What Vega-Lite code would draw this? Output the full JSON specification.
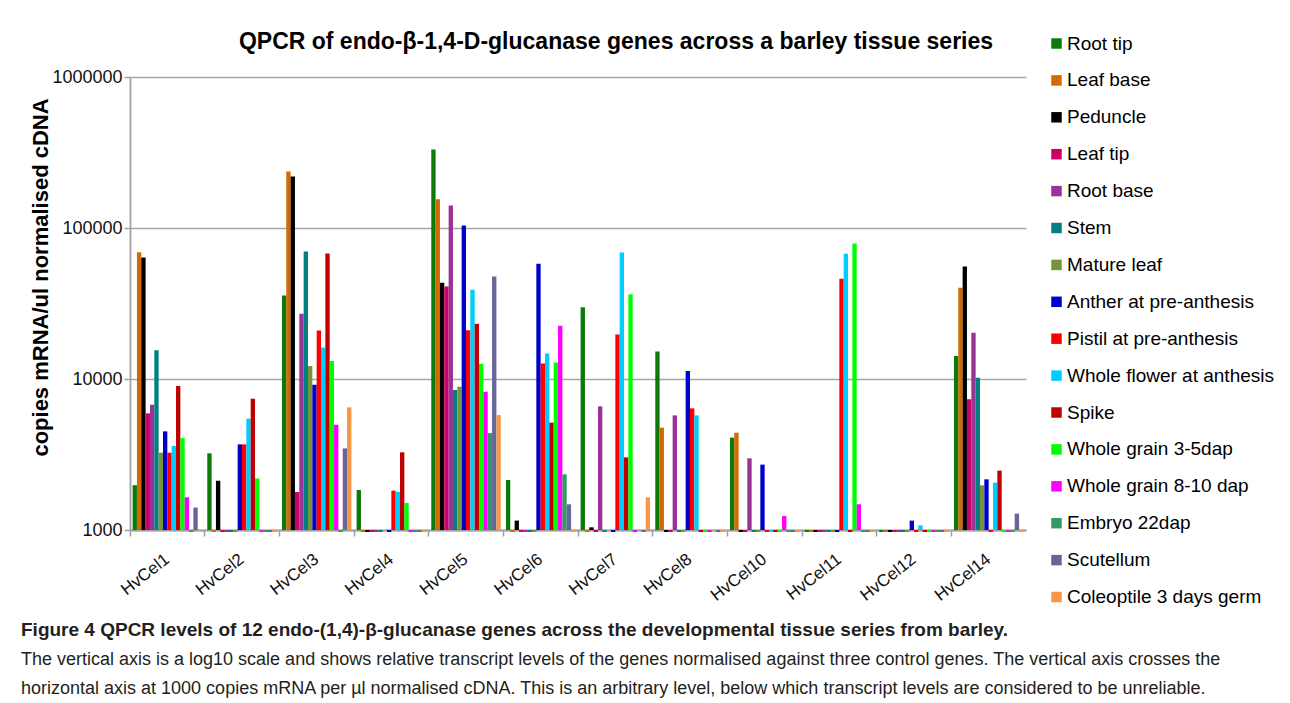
{
  "$schema": "https://vega.github.io/schema/vega-lite/v6.json",
  "background": "white",
  "padding": {"left": 20, "top": 31, "right": 5, "bottom": 5},
  "title": {
    "text": "Figure 4 QPCR levels of 12 endo-(1,4)-β-glucanase genes across the developmental tissue series from barley.",
    "subtitle": [
      "The vertical axis is a log10 scale and shows relative transcript levels of the genes normalised against three control genes. The vertical axis crosses the",
      "horizontal axis at 1000 copies mRNA per µl normalised cDNA. This is an arbitrary level, below which transcript levels are considered to be unreliable."
    ],
    "orient": "bottom",
    "anchor": "start",
    "frame": "bounds",
    "dx": -8,
    "offset": 14,
    "font": "Liberation Sans",
    "fontSize": 19,
    "fontWeight": "bold",
    "color": "#231F20",
    "subtitleFont": "Liberation Sans",
    "subtitleFontSize": 18,
    "subtitleColor": "#231F20",
    "subtitleLineHeight": 28.5,
    "subtitlePadding": 11
  },
  "vconcat": [
    {
      "width": 896,
      "height": 453,
      "title": {
        "text": "QPCR of endo-β-1,4-D-glucanase genes across a barley tissue series",
        "font": "Liberation Sans",
        "fontSize": 23,
        "fontWeight": "bold",
        "color": "black",
        "anchor": "middle",
        "dx": 38,
        "offset": 14
      },
      "data": {
        "values": [
          {"gene": "HvCel1", "tissue": "Root tip", "copies": 1980},
          {"gene": "HvCel1", "tissue": "Leaf base", "copies": 69200},
          {"gene": "HvCel1", "tissue": "Peduncle", "copies": 63800},
          {"gene": "HvCel1", "tissue": "Leaf tip", "copies": 5920},
          {"gene": "HvCel1", "tissue": "Root base", "copies": 6760},
          {"gene": "HvCel1", "tissue": "Stem", "copies": 15500},
          {"gene": "HvCel1", "tissue": "Mature leaf", "copies": 3250},
          {"gene": "HvCel1", "tissue": "Anther at pre-anthesis", "copies": 4500},
          {"gene": "HvCel1", "tissue": "Pistil at pre-anthesis", "copies": 3250},
          {"gene": "HvCel1", "tissue": "Whole flower at anthesis", "copies": 3600},
          {"gene": "HvCel1", "tissue": "Spike", "copies": 8980},
          {"gene": "HvCel1", "tissue": "Whole grain 3-5dap", "copies": 4060},
          {"gene": "HvCel1", "tissue": "Whole grain 8-10 dap", "copies": 1645},
          {"gene": "HvCel1", "tissue": "Embryo 22dap", "copies": 970},
          {"gene": "HvCel1", "tissue": "Scutellum", "copies": 1407},
          {"gene": "HvCel1", "tissue": "Coleoptile 3 days germ", "copies": 1000},

          {"gene": "HvCel2", "tissue": "Root tip", "copies": 3220},
          {"gene": "HvCel2", "tissue": "Leaf base", "copies": 970},
          {"gene": "HvCel2", "tissue": "Peduncle", "copies": 2120},
          {"gene": "HvCel2", "tissue": "Leaf tip", "copies": 970},
          {"gene": "HvCel2", "tissue": "Root base", "copies": 970},
          {"gene": "HvCel2", "tissue": "Stem", "copies": 970},
          {"gene": "HvCel2", "tissue": "Mature leaf", "copies": 970},
          {"gene": "HvCel2", "tissue": "Anther at pre-anthesis", "copies": 3690},
          {"gene": "HvCel2", "tissue": "Pistil at pre-anthesis", "copies": 3690},
          {"gene": "HvCel2", "tissue": "Whole flower at anthesis", "copies": 5460},
          {"gene": "HvCel2", "tissue": "Spike", "copies": 7410},
          {"gene": "HvCel2", "tissue": "Whole grain 3-5dap", "copies": 2190},
          {"gene": "HvCel2", "tissue": "Whole grain 8-10 dap", "copies": 970},
          {"gene": "HvCel2", "tissue": "Embryo 22dap", "copies": 970},
          {"gene": "HvCel2", "tissue": "Scutellum", "copies": 970},
          {"gene": "HvCel2", "tissue": "Coleoptile 3 days germ", "copies": 970},

          {"gene": "HvCel3", "tissue": "Root tip", "copies": 35700},
          {"gene": "HvCel3", "tissue": "Leaf base", "copies": 236600},
          {"gene": "HvCel3", "tissue": "Peduncle", "copies": 219000},
          {"gene": "HvCel3", "tissue": "Leaf tip", "copies": 1784},
          {"gene": "HvCel3", "tissue": "Root base", "copies": 27000},
          {"gene": "HvCel3", "tissue": "Stem", "copies": 69900},
          {"gene": "HvCel3", "tissue": "Mature leaf", "copies": 12170},
          {"gene": "HvCel3", "tissue": "Anther at pre-anthesis", "copies": 9170},
          {"gene": "HvCel3", "tissue": "Pistil at pre-anthesis", "copies": 20980},
          {"gene": "HvCel3", "tissue": "Whole flower at anthesis", "copies": 16190},
          {"gene": "HvCel3", "tissue": "Spike", "copies": 67800},
          {"gene": "HvCel3", "tissue": "Whole grain 3-5dap", "copies": 13140},
          {"gene": "HvCel3", "tissue": "Whole grain 8-10 dap", "copies": 4980},
          {"gene": "HvCel3", "tissue": "Embryo 22dap", "copies": 970},
          {"gene": "HvCel3", "tissue": "Scutellum", "copies": 3470},
          {"gene": "HvCel3", "tissue": "Coleoptile 3 days germ", "copies": 6490},

          {"gene": "HvCel4", "tissue": "Root tip", "copies": 1840},
          {"gene": "HvCel4", "tissue": "Leaf base", "copies": 970},
          {"gene": "HvCel4", "tissue": "Peduncle", "copies": 970},
          {"gene": "HvCel4", "tissue": "Leaf tip", "copies": 970},
          {"gene": "HvCel4", "tissue": "Root base", "copies": 970},
          {"gene": "HvCel4", "tissue": "Stem", "copies": 970},
          {"gene": "HvCel4", "tissue": "Mature leaf", "copies": 1000},
          {"gene": "HvCel4", "tissue": "Anther at pre-anthesis", "copies": 970},
          {"gene": "HvCel4", "tissue": "Pistil at pre-anthesis", "copies": 1822},
          {"gene": "HvCel4", "tissue": "Whole flower at anthesis", "copies": 1790},
          {"gene": "HvCel4", "tissue": "Spike", "copies": 3270},
          {"gene": "HvCel4", "tissue": "Whole grain 3-5dap", "copies": 1510},
          {"gene": "HvCel4", "tissue": "Whole grain 8-10 dap", "copies": 970},
          {"gene": "HvCel4", "tissue": "Embryo 22dap", "copies": 970},
          {"gene": "HvCel4", "tissue": "Scutellum", "copies": 970},
          {"gene": "HvCel4", "tissue": "Coleoptile 3 days germ", "copies": 970},

          {"gene": "HvCel5", "tissue": "Root tip", "copies": 330600},
          {"gene": "HvCel5", "tissue": "Leaf base", "copies": 155200},
          {"gene": "HvCel5", "tissue": "Peduncle", "copies": 43400},
          {"gene": "HvCel5", "tissue": "Leaf tip", "copies": 41000},
          {"gene": "HvCel5", "tissue": "Root base", "copies": 140900},
          {"gene": "HvCel5", "tissue": "Stem", "copies": 8450},
          {"gene": "HvCel5", "tissue": "Mature leaf", "copies": 8890},
          {"gene": "HvCel5", "tissue": "Anther at pre-anthesis", "copies": 103900},
          {"gene": "HvCel5", "tissue": "Pistil at pre-anthesis", "copies": 21000},
          {"gene": "HvCel5", "tissue": "Whole flower at anthesis", "copies": 39000},
          {"gene": "HvCel5", "tissue": "Spike", "copies": 23200},
          {"gene": "HvCel5", "tissue": "Whole grain 3-5dap", "copies": 12620},
          {"gene": "HvCel5", "tissue": "Whole grain 8-10 dap", "copies": 8240},
          {"gene": "HvCel5", "tissue": "Embryo 22dap", "copies": 4385},
          {"gene": "HvCel5", "tissue": "Scutellum", "copies": 47750},
          {"gene": "HvCel5", "tissue": "Coleoptile 3 days germ", "copies": 5770},

          {"gene": "HvCel6", "tissue": "Root tip", "copies": 2143},
          {"gene": "HvCel6", "tissue": "Leaf base", "copies": 970},
          {"gene": "HvCel6", "tissue": "Peduncle", "copies": 1154},
          {"gene": "HvCel6", "tissue": "Leaf tip", "copies": 970},
          {"gene": "HvCel6", "tissue": "Root base", "copies": 970},
          {"gene": "HvCel6", "tissue": "Stem", "copies": 970},
          {"gene": "HvCel6", "tissue": "Mature leaf", "copies": 970},
          {"gene": "HvCel6", "tissue": "Anther at pre-anthesis", "copies": 57950},
          {"gene": "HvCel6", "tissue": "Pistil at pre-anthesis", "copies": 12690},
          {"gene": "HvCel6", "tissue": "Whole flower at anthesis", "copies": 14770},
          {"gene": "HvCel6", "tissue": "Spike", "copies": 5140},
          {"gene": "HvCel6", "tissue": "Whole grain 3-5dap", "copies": 12880},
          {"gene": "HvCel6", "tissue": "Whole grain 8-10 dap", "copies": 22520},
          {"gene": "HvCel6", "tissue": "Embryo 22dap", "copies": 2337},
          {"gene": "HvCel6", "tissue": "Scutellum", "copies": 1480},
          {"gene": "HvCel6", "tissue": "Coleoptile 3 days germ", "copies": 970},

          {"gene": "HvCel7", "tissue": "Root tip", "copies": 29900},
          {"gene": "HvCel7", "tissue": "Leaf base", "copies": 970},
          {"gene": "HvCel7", "tissue": "Peduncle", "copies": 1042},
          {"gene": "HvCel7", "tissue": "Leaf tip", "copies": 970},
          {"gene": "HvCel7", "tissue": "Root base", "copies": 6590},
          {"gene": "HvCel7", "tissue": "Stem", "copies": 970},
          {"gene": "HvCel7", "tissue": "Mature leaf", "copies": 1000},
          {"gene": "HvCel7", "tissue": "Anther at pre-anthesis", "copies": 970},
          {"gene": "HvCel7", "tissue": "Pistil at pre-anthesis", "copies": 19730},
          {"gene": "HvCel7", "tissue": "Whole flower at anthesis", "copies": 68840},
          {"gene": "HvCel7", "tissue": "Spike", "copies": 3027},
          {"gene": "HvCel7", "tissue": "Whole grain 3-5dap", "copies": 36470},
          {"gene": "HvCel7", "tissue": "Whole grain 8-10 dap", "copies": 970},
          {"gene": "HvCel7", "tissue": "Embryo 22dap", "copies": 1000},
          {"gene": "HvCel7", "tissue": "Scutellum", "copies": 970},
          {"gene": "HvCel7", "tissue": "Coleoptile 3 days germ", "copies": 1645},

          {"gene": "HvCel8", "tissue": "Root tip", "copies": 15230},
          {"gene": "HvCel8", "tissue": "Leaf base", "copies": 4760},
          {"gene": "HvCel8", "tissue": "Peduncle", "copies": 970},
          {"gene": "HvCel8", "tissue": "Leaf tip", "copies": 970},
          {"gene": "HvCel8", "tissue": "Root base", "copies": 5740},
          {"gene": "HvCel8", "tissue": "Stem", "copies": 970},
          {"gene": "HvCel8", "tissue": "Mature leaf", "copies": 970},
          {"gene": "HvCel8", "tissue": "Anther at pre-anthesis", "copies": 11280},
          {"gene": "HvCel8", "tissue": "Pistil at pre-anthesis", "copies": 6390},
          {"gene": "HvCel8", "tissue": "Whole flower at anthesis", "copies": 5740},
          {"gene": "HvCel8", "tissue": "Spike", "copies": 970},
          {"gene": "HvCel8", "tissue": "Whole grain 3-5dap", "copies": 970},
          {"gene": "HvCel8", "tissue": "Whole grain 8-10 dap", "copies": 970},
          {"gene": "HvCel8", "tissue": "Embryo 22dap", "copies": 1000},
          {"gene": "HvCel8", "tissue": "Scutellum", "copies": 970},
          {"gene": "HvCel8", "tissue": "Coleoptile 3 days germ", "copies": 970},

          {"gene": "HvCel10", "tissue": "Root tip", "copies": 4090},
          {"gene": "HvCel10", "tissue": "Leaf base", "copies": 4410},
          {"gene": "HvCel10", "tissue": "Peduncle", "copies": 970},
          {"gene": "HvCel10", "tissue": "Leaf tip", "copies": 970},
          {"gene": "HvCel10", "tissue": "Root base", "copies": 2983},
          {"gene": "HvCel10", "tissue": "Stem", "copies": 970},
          {"gene": "HvCel10", "tissue": "Mature leaf", "copies": 970},
          {"gene": "HvCel10", "tissue": "Anther at pre-anthesis", "copies": 2710},
          {"gene": "HvCel10", "tissue": "Pistil at pre-anthesis", "copies": 970},
          {"gene": "HvCel10", "tissue": "Whole flower at anthesis", "copies": 970},
          {"gene": "HvCel10", "tissue": "Spike", "copies": 970},
          {"gene": "HvCel10", "tissue": "Whole grain 3-5dap", "copies": 970},
          {"gene": "HvCel10", "tissue": "Whole grain 8-10 dap", "copies": 1238},
          {"gene": "HvCel10", "tissue": "Embryo 22dap", "copies": 970},
          {"gene": "HvCel10", "tissue": "Scutellum", "copies": 970},
          {"gene": "HvCel10", "tissue": "Coleoptile 3 days germ", "copies": 970},

          {"gene": "HvCel11", "tissue": "Root tip", "copies": 970},
          {"gene": "HvCel11", "tissue": "Leaf base", "copies": 970},
          {"gene": "HvCel11", "tissue": "Peduncle", "copies": 970},
          {"gene": "HvCel11", "tissue": "Leaf tip", "copies": 970},
          {"gene": "HvCel11", "tissue": "Root base", "copies": 970},
          {"gene": "HvCel11", "tissue": "Stem", "copies": 970},
          {"gene": "HvCel11", "tissue": "Mature leaf", "copies": 970},
          {"gene": "HvCel11", "tissue": "Anther at pre-anthesis", "copies": 970},
          {"gene": "HvCel11", "tissue": "Pistil at pre-anthesis", "copies": 46100},
          {"gene": "HvCel11", "tissue": "Whole flower at anthesis", "copies": 67500},
          {"gene": "HvCel11", "tissue": "Spike", "copies": 970},
          {"gene": "HvCel11", "tissue": "Whole grain 3-5dap", "copies": 78900},
          {"gene": "HvCel11", "tissue": "Whole grain 8-10 dap", "copies": 1480},
          {"gene": "HvCel11", "tissue": "Embryo 22dap", "copies": 970},
          {"gene": "HvCel11", "tissue": "Scutellum", "copies": 970},
          {"gene": "HvCel11", "tissue": "Coleoptile 3 days germ", "copies": 970},

          {"gene": "HvCel12", "tissue": "Root tip", "copies": 970},
          {"gene": "HvCel12", "tissue": "Leaf base", "copies": 970},
          {"gene": "HvCel12", "tissue": "Peduncle", "copies": 970},
          {"gene": "HvCel12", "tissue": "Leaf tip", "copies": 970},
          {"gene": "HvCel12", "tissue": "Root base", "copies": 970},
          {"gene": "HvCel12", "tissue": "Stem", "copies": 970},
          {"gene": "HvCel12", "tissue": "Mature leaf", "copies": 970},
          {"gene": "HvCel12", "tissue": "Anther at pre-anthesis", "copies": 1154},
          {"gene": "HvCel12", "tissue": "Pistil at pre-anthesis", "copies": 970},
          {"gene": "HvCel12", "tissue": "Whole flower at anthesis", "copies": 1074},
          {"gene": "HvCel12", "tissue": "Spike", "copies": 970},
          {"gene": "HvCel12", "tissue": "Whole grain 3-5dap", "copies": 970},
          {"gene": "HvCel12", "tissue": "Whole grain 8-10 dap", "copies": 970},
          {"gene": "HvCel12", "tissue": "Embryo 22dap", "copies": 970},
          {"gene": "HvCel12", "tissue": "Scutellum", "copies": 970},
          {"gene": "HvCel12", "tissue": "Coleoptile 3 days germ", "copies": 970},

          {"gene": "HvCel14", "tissue": "Root tip", "copies": 14180},
          {"gene": "HvCel14", "tissue": "Leaf base", "copies": 40200},
          {"gene": "HvCel14", "tissue": "Peduncle", "copies": 55600},
          {"gene": "HvCel14", "tissue": "Leaf tip", "copies": 7330},
          {"gene": "HvCel14", "tissue": "Root base", "copies": 20250},
          {"gene": "HvCel14", "tissue": "Stem", "copies": 10200},
          {"gene": "HvCel14", "tissue": "Mature leaf", "copies": 1977},
          {"gene": "HvCel14", "tissue": "Anther at pre-anthesis", "copies": 2166},
          {"gene": "HvCel14", "tissue": "Pistil at pre-anthesis", "copies": 970},
          {"gene": "HvCel14", "tissue": "Whole flower at anthesis", "copies": 2060},
          {"gene": "HvCel14", "tissue": "Spike", "copies": 2472},
          {"gene": "HvCel14", "tissue": "Whole grain 3-5dap", "copies": 970},
          {"gene": "HvCel14", "tissue": "Whole grain 8-10 dap", "copies": 970},
          {"gene": "HvCel14", "tissue": "Embryo 22dap", "copies": 970},
          {"gene": "HvCel14", "tissue": "Scutellum", "copies": 1284},
          {"gene": "HvCel14", "tissue": "Coleoptile 3 days germ", "copies": 970}
        ]
      },
      "mark": {"type": "bar"},
      "encoding": {
        "x": {
          "field": "gene",
          "type": "nominal",
          "sort": ["HvCel1", "HvCel2", "HvCel3", "HvCel4", "HvCel5", "HvCel6", "HvCel7", "HvCel8", "HvCel10", "HvCel11", "HvCel12", "HvCel14"],
          "scale": {"paddingInner": 0, "paddingOuter": 0},
          "axis": {
            "title": null,
            "bandPosition": 0,
            "labelAngle": -38,
            "labelAlign": "right",
            "labelBaseline": "middle",
            "labelOffset": 0,
            "labelPadding": 21,
            "labelFont": "Liberation Sans",
            "labelFontSize": 17,
            "labelColor": "#111111",
            "tickSize": 6,
            "tickColor": "#A0A0A0",
            "tickWidth": 1.5,
            "domainColor": "#A0A0A0",
            "domainWidth": 2,
            "grid": false
          }
        },
        "xOffset": {
          "field": "tissue",
          "type": "nominal",
          "sort": ["Root tip", "Leaf base", "Peduncle", "Leaf tip", "Root base", "Stem", "Mature leaf", "Anther at pre-anthesis", "Pistil at pre-anthesis", "Whole flower at anthesis", "Spike", "Whole grain 3-5dap", "Whole grain 8-10 dap", "Embryo 22dap", "Scutellum", "Coleoptile 3 days germ"],
          "scale": {"paddingInner": 0, "paddingOuter": 0.6}
        },
        "y": {
          "field": "copies",
          "type": "quantitative",
          "title": "copies mRNA/ul normalised cDNA",
          "scale": {"type": "log", "domain": [1000, 1000000], "nice": false},
          "axis": {
            "values": [1000, 10000, 100000, 1000000],
            "format": "d",
            "labelFont": "Liberation Sans",
            "labelFontSize": 18,
            "labelColor": "#111111",
            "labelPadding": 2,
            "tickSize": 6,
            "tickColor": "#A0A0A0",
            "tickWidth": 1.5,
            "domainColor": "#A0A0A0",
            "domainWidth": 1.8,
            "grid": true,
            "gridColor": "#A6A6A6",
            "gridWidth": 1.5,
            "titleFont": "Liberation Sans",
            "titleFontSize": 22,
            "titleFontWeight": "bold",
            "titleColor": "black",
            "titleX": -78,
            "titleY": 200
          }
        },
        "y2": {"datum": 1000},
        "color": {
          "field": "tissue",
          "type": "nominal",
          "scale": {
            "domain": ["Root tip", "Leaf base", "Peduncle", "Leaf tip", "Root base", "Stem", "Mature leaf", "Anther at pre-anthesis", "Pistil at pre-anthesis", "Whole flower at anthesis", "Spike", "Whole grain 3-5dap", "Whole grain 8-10 dap", "Embryo 22dap", "Scutellum", "Coleoptile 3 days germ"],
            "range": ["#0B7A0B", "#D26A00", "#000000", "#CC0066", "#993399", "#008080", "#779438", "#0000CC", "#FF0000", "#00CCFF", "#C00000", "#00FF00", "#FF00FF", "#339966", "#666699", "#F79646"]
          },
          "legend": {
            "orient": "none",
            "legendX": 917,
            "legendY": -43,
            "title": null,
            "direction": "vertical",
            "columns": 1,
            "padding": 0,
            "symbolType": "square",
            "symbolSize": 110,
            "symbolStrokeWidth": 0,
            "symbolOpacity": 1,
            "labelFont": "Liberation Sans",
            "labelFontSize": 19,
            "labelColor": "black",
            "labelOffset": 1,
            "rowPadding": 16.9,
            "labelLimit": 300
          }
        }
      }
    }
  ],
  "config": {
    "view": {"stroke": null},
    "concat": {"spacing": 0}
  }
}
